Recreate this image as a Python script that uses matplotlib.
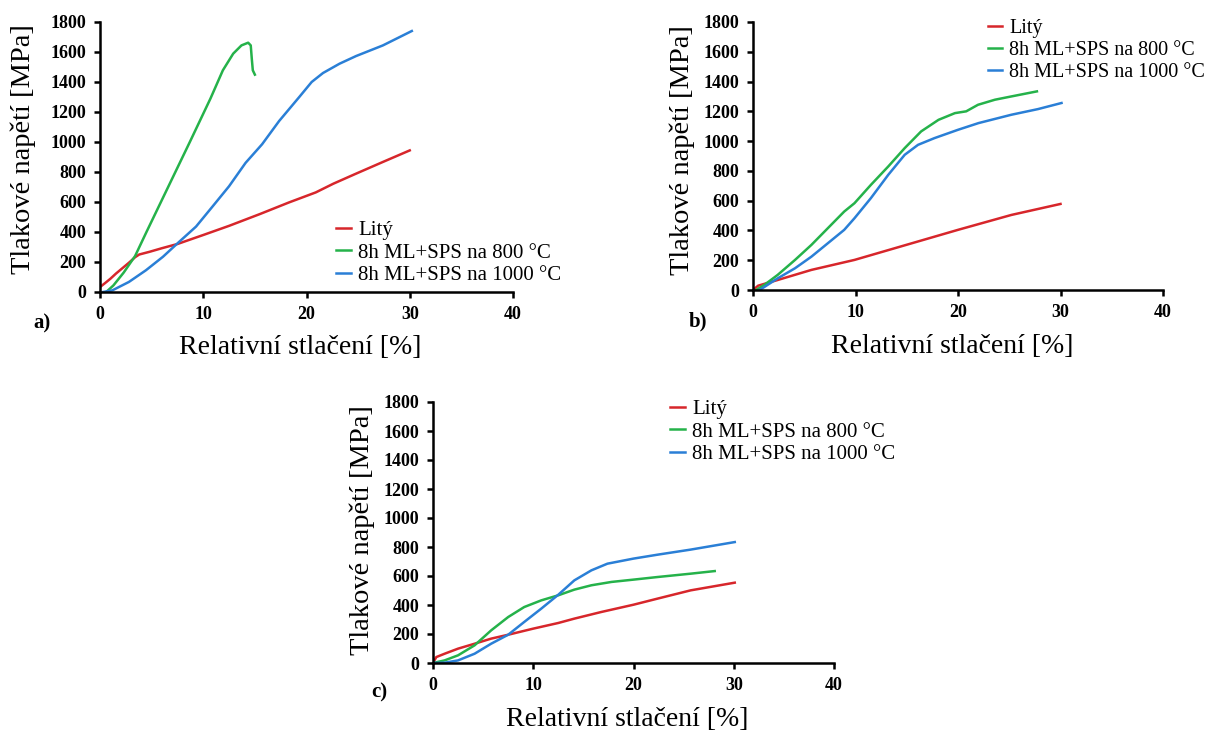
import matplotlib
matplotlib.use('Agg')
import numpy as np
import matplotlib.pyplot as plt

plt.rcParams['font.family'] = ['Liberation Serif', 'DejaVu Serif']

# tlakove zkousky - relativni stlaceni [%] vs tlakove napeti [MPa]
labels = ['Litý', '8h ML+SPS na 800 °C', '8h ML+SPS na 1000 °C']
colors = ['#d7262b', '#25b24a', '#2a7fd6']

# a)
a_lity_x = [0, 0.5, 1.0, 1.55, 2.8, 3.4, 3.8, 4.8, 6.0, 7.5, 10.0, 12.5, 15.5, 18.3, 20.9, 22.6, 24.8, 27.4, 30.0]
a_lity_y = [33, 60, 88, 123, 195, 232, 250, 268, 292, 320, 380, 441, 520, 597, 664, 722, 789, 867, 944]
a_800_x = [0.6, 1.3, 2.3, 3.0, 3.4, 4.5, 5.9, 7.3, 8.7, 10.7, 11.9, 12.9, 13.7, 14.35, 14.6, 14.7, 14.8, 15.0]
a_800_y = [0, 44, 130, 200, 240, 400, 600, 800, 1000, 1290, 1478, 1589, 1644, 1662, 1644, 1556, 1478, 1449]
a_1000_x = [0.3, 1.2, 2.8, 4.45, 6.1, 7.5, 9.3, 10.9, 12.5, 14.1, 15.7, 17.35, 19.3, 20.5, 21.6, 23.2, 24.8, 27.4, 30.2]
a_1000_y = [0, 11, 67, 145, 235, 324, 436, 570, 705, 861, 985, 1140, 1300, 1400, 1460, 1522, 1573, 1644, 1740]

# b)
b_lity_x = [0, 0.5, 2.4, 5.7, 9.9, 13.8, 20.0, 25.2, 30.0]
b_lity_y = [0, 29, 67, 135, 202, 280, 404, 504, 578]
b_800_x = [0.3, 1.1, 2.4, 4.1, 5.7, 7.3, 8.9, 9.9, 11.5, 13.2, 14.8, 16.4, 18.1, 19.7, 20.8, 21.95, 23.6, 25.2, 27.7]
b_800_y = [0, 34, 101, 202, 303, 415, 527, 583, 706, 830, 953, 1065, 1143, 1188, 1200, 1244, 1278, 1300, 1334]
b_1000_x = [0.65, 2.4, 4.1, 5.7, 7.3, 8.9, 9.9, 11.5, 13.2, 14.8, 16.1, 17.7, 20.0, 22.0, 25.2, 27.8, 30.1]
b_1000_y = [0, 78, 146, 224, 314, 404, 482, 617, 774, 908, 975, 1020, 1076, 1121, 1177, 1215, 1256]

# c)
c_lity_x = [0, 0.33, 1.16, 2.5, 4.15, 5.8, 7.5, 10.0, 12.5, 14.1, 16.8, 20.0, 22.4, 25.7, 30.1]
c_lity_y = [0, 41, 64, 99, 133, 168, 195, 237, 276, 306, 352, 402, 444, 501, 554]
c_800_x = [0, 1.16, 2.5, 4.15, 5.8, 7.5, 9.1, 10.8, 12.5, 14.1, 15.8, 17.8, 20.0, 22.4, 25.7, 28.1]
c_800_y = [0, 18, 53, 122, 225, 317, 386, 432, 467, 506, 536, 559, 575, 593, 616, 634]
c_1000_x = [0, 1.16, 2.5, 4.15, 5.8, 7.5, 9.1, 10.8, 12.5, 14.1, 15.8, 17.4, 20.0, 22.4, 25.7, 30.1]
c_1000_y = [0, 2, 18, 64, 133, 195, 283, 375, 471, 570, 639, 685, 720, 747, 782, 834]

panels = [
    ('a)', [(a_lity_x, a_lity_y), (a_800_x, a_800_y), (a_1000_x, a_1000_y)]),
    ('b)', [(b_lity_x, b_lity_y), (b_800_x, b_800_y), (b_1000_x, b_1000_y)]),
    ('c)', [(c_lity_x, c_lity_y), (c_800_x, c_800_y), (c_1000_x, c_1000_y)]),
]

W, H = 1213, 731
fig = plt.figure(figsize=(W / 100, H / 100), dpi=100)

# pozice os v pixelech: left, right, top, bottom
boxes = [(100, 513, 22, 292), (753, 1163, 22, 290), (433, 834, 402, 663)]
# legenda (levy horni roh), popisek panelu, osa y: odsazeni a stred
leg_pos = [(328, 212), (980, 11), (662, 391)]
leg_size = [15, 14.5, 15]
tag_pos = [(33, 323), (689, 321), (371, 692)]
ylab_pos = [(77, 149), (71, 150), (71, 530)]

for (tag, series), (l, r, t, b), (lx, ly), fs, (tx, ty), (yo, yc) in zip(
        panels, boxes, leg_pos, leg_size, tag_pos, ylab_pos):
    w, h = r - l, b - t
    ax = fig.add_axes([l / W, 1 - b / H, w / W, h / H])
    for (x, y), c, lab in zip(series, colors, labels):
        ax.plot(x, y, color=c, lw=1.8, label=lab)
    ax.set_xlim(0, 40)
    ax.set_ylim(0, 1800)
    ax.set_xticks(np.arange(0, 41, 10))
    ax.set_yticks(np.arange(0, 1801, 200))
    for s in ['top', 'right']:
        ax.spines[s].set_visible(False)
    for s in ['left', 'bottom']:
        ax.spines[s].set_linewidth(1.8)
    ax.tick_params(direction='out', length=4, width=1.8, labelsize=13, pad=6)
    for lbl in ax.get_xticklabels() + ax.get_yticklabels():
        lbl.set_fontweight('bold')
    ax.set_xlabel('Relativní stlačení [%]', fontsize=20, va='center')
    ax.xaxis.set_label_coords(0.5 - 6 / w, -(56 / h))
    ax.set_ylabel('Tlakové napětí [MPa]', fontsize=20.5, va='center')
    ax.yaxis.set_label_coords(-yo / w, (b - yc) / h)
    ax.legend(loc='upper left', bbox_to_anchor=(lx / W, 1 - ly / H),
              bbox_transform=fig.transFigure, frameon=False, fontsize=fs,
              handlelength=0.7, handletextpad=0.35, labelspacing=0.15,
              borderaxespad=0)
    fig.text(tx / W, 1 - ty / H, tag, fontsize=15, fontweight='bold',
             va='center', ha='left')

fig.savefig('out.png', dpi=100)
